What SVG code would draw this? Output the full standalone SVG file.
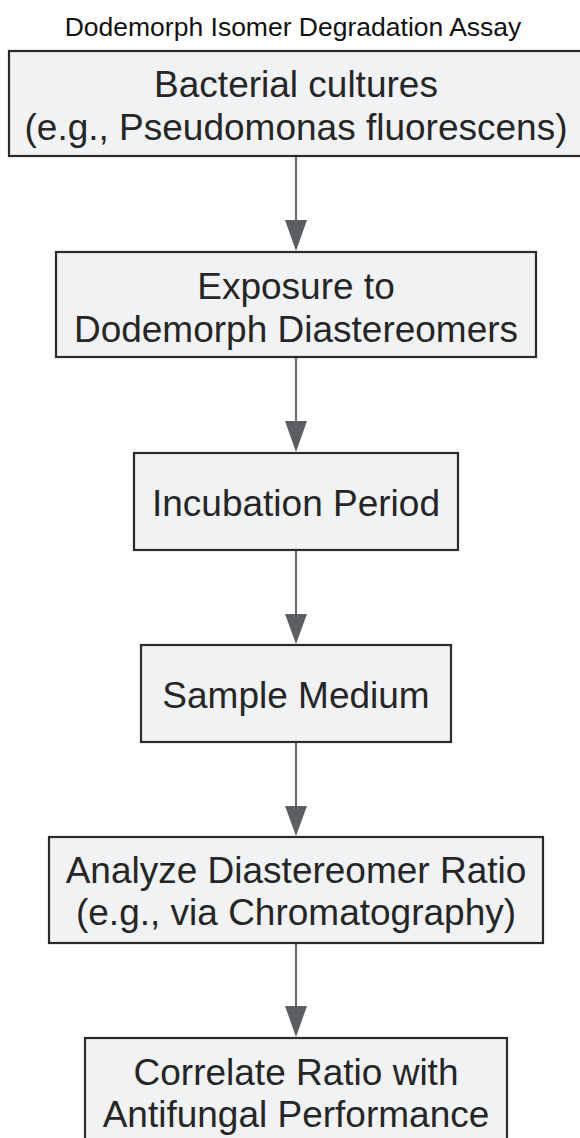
<svg xmlns="http://www.w3.org/2000/svg" width="580" height="1138" viewBox="0 0 580 1138">
<style>
.box{fill:#f1f2f4;stroke:#2a2a2a;stroke-width:2.2}
.lbl{font-family:"Liberation Sans",Arial,sans-serif;font-size:37px;fill:#262626;text-anchor:middle}
.title{font-family:"Liberation Sans",Arial,sans-serif;font-size:26.5px;fill:#111;text-anchor:middle}
.edge{stroke:#6b6e73;stroke-width:2.2;fill:none}
.head{fill:#5b5e63}
</style>
<rect width="580" height="1138" fill="#ffffff"/>
<text class="title" x="293" y="36">Dodemorph Isomer Degradation Assay</text>
<g id="connectors">
<line class="edge" x1="296" y1="157" x2="296" y2="222"/>
<polygon class="head" points="285,220 307,220 296,251"/>
<line class="edge" x1="296" y1="358" x2="296" y2="423"/>
<polygon class="head" points="285,421 307,421 296,452"/>
<line class="edge" x1="296" y1="551" x2="296" y2="616"/>
<polygon class="head" points="285,614 307,614 296,644"/>
<line class="edge" x1="296" y1="743" x2="296" y2="808"/>
<polygon class="head" points="285,806 307,806 296,836"/>
<line class="edge" x1="296" y1="944" x2="296" y2="1008"/>
<polygon class="head" points="285,1006 307,1006 296,1037"/>
</g>
<g id="n1">
<rect class="box" x="9" y="51" width="576" height="105"/>
<text class="lbl" x="296" y="97">Bacterial cultures</text>
<text class="lbl" x="296" y="140">(e.g., Pseudomonas fluorescens)</text>
</g>
<g id="n2">
<rect class="box" x="56" y="252" width="480" height="105"/>
<text class="lbl" x="296" y="299">Exposure to</text>
<text class="lbl" x="296" y="342">Dodemorph Diastereomers</text>
</g>
<g id="n3">
<rect class="box" x="134" y="453" width="324" height="97"/>
<text class="lbl" x="296" y="516">Incubation Period</text>
</g>
<g id="n4">
<rect class="box" x="141" y="645" width="310" height="97"/>
<text class="lbl" x="296" y="708">Sample Medium</text>
</g>
<g id="n5">
<rect class="box" x="49" y="837" width="494" height="106"/>
<text class="lbl" x="296" y="883">Analyze Diastereomer Ratio</text>
<text class="lbl" x="296" y="925">(e.g., via Chromatography)</text>
</g>
<g id="n6">
<rect class="box" x="85" y="1038" width="422" height="106"/>
<text class="lbl" x="296" y="1085">Correlate Ratio with</text>
<text class="lbl" x="296" y="1127">Antifungal Performance</text>
</g>
</svg>
